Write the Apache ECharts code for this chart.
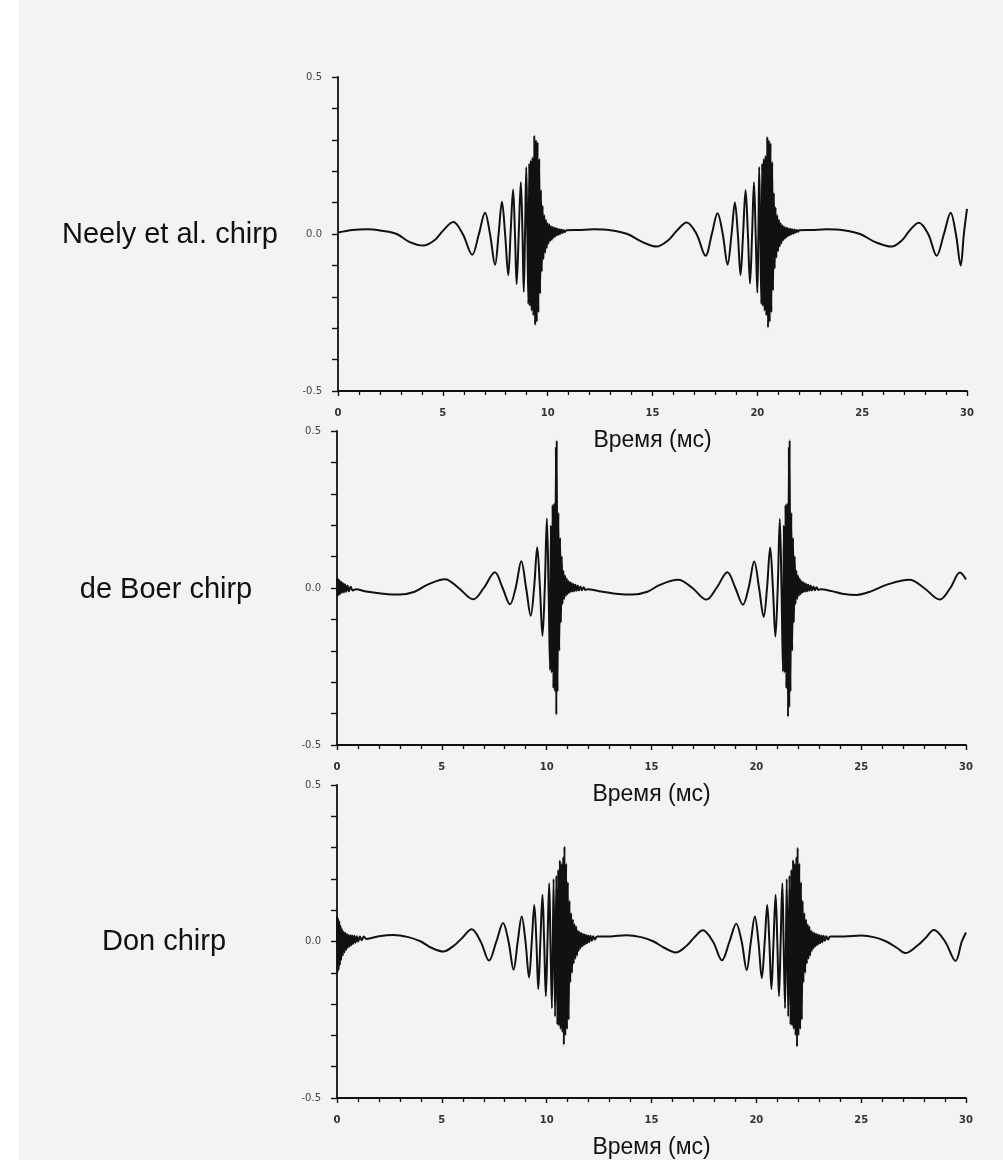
<!DOCTYPE html>
<html>
<head>
<meta charset="utf-8">
<script src="https://cdn.jsdelivr.net/npm/echarts@6/dist/echarts.min.js"></script>
<style>
html,body{margin:0;padding:0;background:#ffffff;}
#chart{width:1003px;height:1160px;}
</style>
</head>
<body>
<div id="chart"></div>
<script>
// ---- data ----
const panelNames = ['Neely et al. chirp', 'de Boer chirp', 'Don chirp'];
const xAxisTitle = 'Время (мс)';
const xRange = [0, 30];
const yRange = [-0.5, 0.5];
const yLabelValues = [-0.5, 0, 0.5];
const yLabelTexts = ['-0.5', '0.0', '0.5'];

const neelyData = [
[0,0.005],[0.7,0.013],[1.4,0.015],[2.1,0.01],[2.8,0],[3.4,-0.025],[4.07,-0.037],[4.6,-0.02],[5.0,0.01],[5.5,0.038],[5.95,0],[6.4,-0.066],[6.72,0],[7.01,0.068],[7.25,0],[7.49,-0.098],[7.66,0],[7.82,0.103],[7.97,0],[8.12,-0.131],[8.23,0],[8.35,0.142],[8.44,0],[8.52,-0.16],[8.62,0],[8.72,0.165],[8.8,0],[8.86,-0.185],[8.92,0],[8.98,0.213],[9.03,0],
[9.08,-0.224],[9.12,0.225],[9.16,-0.23],[9.2,0.235],[9.24,-0.245],[9.28,0.245],[9.32,-0.26],[9.36,0.314],[9.4,-0.29],[9.44,0.3],[9.48,-0.28],[9.52,0.293],[9.56,-0.25],[9.6,0.24],[9.64,-0.19],[9.68,0.14],[9.72,-0.12],[9.76,0.09],[9.8,-0.08],[9.84,0.06],[9.88,-0.06],[9.92,0.045],[9.96,-0.045],[10,0.035],
[10.04,-0.03],[10.08,0.03],[10.12,-0.022],[10.16,0.025],[10.2,-0.018],[10.24,0.022],[10.28,-0.012],[10.32,0.02],[10.36,-0.008],[10.4,0.018],[10.44,-0.004],[10.48,0.016],[10.52,-0.002],[10.56,0.015],[10.6,0],[10.65,0.014],[10.7,0.003],[10.76,0.013],[10.82,0.006],[10.9,0.012],
[11.5,0.013],[12.2,0.015],[13,0.012],[13.8,0],[14.5,-0.025],[15.2,-0.04],[15.75,-0.02],[16.15,0.01],[16.63,0.037],[17.1,0],[17.53,-0.069],[17.83,0],[18.1,0.066],[18.35,0],[18.58,-0.098],[18.77,0],[18.93,0.1],[19.07,0],[19.2,-0.131],[19.32,0],[19.44,0.14],[19.55,0],[19.65,-0.158],[19.75,0],[19.84,0.165],[19.92,0],[20,-0.187],[20.05,0],[20.09,0.213],[20.14,0],
[20.19,-0.224],[20.23,0.225],[20.27,-0.23],[20.31,0.24],[20.35,-0.245],[20.39,0.25],[20.43,-0.26],[20.47,0.31],[20.51,-0.298],[20.55,0.3],[20.59,-0.28],[20.63,0.29],[20.67,-0.25],[20.71,0.23],[20.75,-0.18],[20.79,0.13],[20.83,-0.11],[20.87,0.085],[20.91,-0.075],[20.95,0.06],[20.99,-0.055],[21.03,0.045],[21.07,-0.04],[21.11,0.035],
[21.15,-0.03],[21.19,0.028],[21.23,-0.02],[21.27,0.024],[21.31,-0.015],[21.35,0.021],[21.39,-0.01],[21.43,0.019],[21.47,-0.006],[21.51,0.017],[21.55,-0.003],[21.59,0.016],[21.63,-0.001],[21.67,0.015],[21.72,0.001],[21.77,0.014],[21.82,0.004],[21.88,0.013],[21.94,0.007],[22,0.012],
[22.6,0.013],[23.3,0.015],[24.1,0.012],[24.9,0],[25.6,-0.025],[26.4,-0.04],[26.9,-0.02],[27.25,0.01],[27.7,0.036],[28.15,0],[28.55,-0.069],[28.9,0],[29.22,0.068],[29.47,0],[29.7,-0.1],[29.85,0],[30,0.08]
];

const deBoerData = [
[0,0.03],[0.03,-0.025],[0.06,0.028],[0.09,-0.022],[0.12,0.025],[0.16,-0.018],[0.2,0.02],[0.24,-0.015],[0.28,0.016],[0.33,-0.014],[0.38,0.012],[0.44,-0.012],[0.5,0.008],[0.57,-0.01],[0.65,0.004],[0.75,-0.008],[0.9,-0.004],
[1.4,-0.011],[2.2,-0.018],[3,-0.021],[3.7,-0.012],[4.3,0.01],[5.15,0.028],[5.8,0],[6.5,-0.036],[7,0],[7.53,0.05],[7.9,0],[8.25,-0.052],[8.52,0],[8.79,0.085],[9.02,0],[9.24,-0.088],[9.4,0],[9.55,0.13],[9.68,0],[9.8,-0.152],[9.91,0],[10.01,0.221],[10.09,0],[10.16,-0.261],
[10.2,0.2],[10.24,-0.27],[10.28,0.265],[10.32,-0.32],[10.36,0.27],[10.4,-0.33],[10.44,0.45],[10.46,-0.404],[10.48,0.47],[10.52,-0.33],[10.56,0.24],[10.6,-0.2],[10.64,0.16],[10.68,-0.11],[10.72,0.1],[10.76,-0.05],
[10.8,0.055],[10.84,-0.035],[10.88,0.04],[10.92,-0.025],[10.96,0.03],[11,-0.02],[11.04,0.022],[11.08,-0.015],[11.12,0.018],[11.16,-0.012],[11.2,0.015],[11.24,-0.011],[11.28,0.012],[11.32,-0.01],[11.37,0.01],[11.42,-0.009],[11.48,0.008],[11.54,-0.008],[11.61,0.005],[11.68,-0.007],[11.76,0.002],[11.85,-0.006],[11.95,-0.004],
[12.5,-0.01],[13.3,-0.018],[14.1,-0.021],[14.8,-0.012],[15.4,0.01],[16.27,0.026],[16.95,0],[17.62,-0.037],[18.1,0],[18.62,0.05],[19,0],[19.36,-0.053],[19.63,0],[19.9,0.084],[20.13,0],[20.35,-0.092],[20.51,0],[20.66,0.129],[20.79,0],[20.91,-0.155],[21.02,0],[21.12,0.22],[21.2,0],[21.27,-0.266],
[21.31,0.2],[21.35,-0.27],[21.39,0.265],[21.43,-0.32],[21.47,0.27],[21.51,-0.41],[21.55,0.45],[21.57,-0.38],[21.59,0.471],[21.63,-0.33],[21.67,0.24],[21.71,-0.2],[21.75,0.16],[21.79,-0.11],[21.83,0.1],[21.87,-0.05],
[21.91,0.055],[21.95,-0.035],[21.99,0.04],[22.03,-0.025],[22.07,0.03],[22.11,-0.02],[22.15,0.022],[22.19,-0.015],[22.23,0.018],[22.27,-0.012],[22.31,0.015],[22.35,-0.011],[22.39,0.012],[22.43,-0.01],[22.48,0.01],[22.53,-0.009],[22.59,0.008],[22.65,-0.008],[22.72,0.005],[22.79,-0.007],[22.87,0.002],[22.96,-0.006],[23.06,-0.004],
[23.6,-0.01],[24.1,-0.018],[24.78,-0.022],[25.5,-0.01],[26.2,0.01],[27.3,0.026],[28,0],[28.75,-0.037],[29.25,0],[29.71,0.049],[30,0.027]
];

const donData = [
[0,0.08],[0.02,-0.1],[0.05,0.075],[0.08,-0.09],[0.11,0.065],[0.14,-0.075],[0.17,0.05],[0.2,-0.06],[0.24,0.04],[0.28,-0.045],[0.32,0.032],[0.36,-0.035],[0.4,0.028],[0.44,-0.027],[0.48,0.024],[0.52,-0.02],[0.56,0.021],[0.6,-0.016],[0.64,0.02],[0.68,-0.012],[0.72,0.019],[0.77,-0.008],[0.82,0.018],[0.88,-0.004],[0.94,0.017],[1.01,0],[1.09,0.016],[1.18,0.004],[1.28,0.016],[1.4,0.008],
[2,0.017],[2.69,0.021],[3.4,0.014],[4,0],[4.5,-0.02],[5.07,-0.032],[5.6,-0.012],[5.95,0.01],[6.42,0.039],[6.85,0],[7.25,-0.061],[7.6,0],[7.92,0.059],[8.18,0],[8.42,-0.09],[8.62,0],[8.81,0.08],[8.99,0],[9.16,-0.115],[9.29,0],[9.41,0.117],[9.51,0],[9.6,-0.152],[9.7,0],[9.8,0.149],[9.88,0],[9.96,-0.175],[10.04,0],[10.12,0.186],[10.18,0],[10.25,-0.213],
[10.33,0.2],[10.4,-0.24],[10.46,0.21],[10.51,-0.266],[10.55,0.23],[10.59,-0.27],[10.63,0.26],[10.67,-0.28],[10.71,0.25],[10.75,-0.29],[10.79,0.27],[10.82,-0.33],[10.85,0.304],[10.89,-0.3],[10.93,0.25],[10.97,-0.28],[11.01,0.19],[11.05,-0.25],[11.09,0.13],[11.13,-0.13],[11.17,0.09],[11.21,-0.1],[11.25,0.07],[11.29,-0.07],[11.33,0.055],[11.37,-0.055],[11.41,0.048],[11.45,-0.045],
[11.49,0.035],[11.53,-0.03],[11.57,0.03],[11.61,-0.022],[11.65,0.027],[11.69,-0.016],[11.73,0.025],[11.77,-0.012],[11.81,0.022],[11.85,-0.008],[11.89,0.02],[11.93,-0.005],[11.98,0.019],[12.03,-0.002],[12.09,0.018],[12.15,0.002],[12.22,0.017],[12.3,0.006],[12.4,0.016],
[13,0.016],[13.8,0.02],[14.5,0.014],[15.1,0],[15.6,-0.02],[16.15,-0.035],[16.7,-0.012],[17,0.01],[17.45,0.036],[17.93,0],[18.36,-0.06],[18.72,0],[19.04,0.057],[19.3,0],[19.54,-0.091],[19.74,0],[19.93,0.08],[20.1,0],[20.26,-0.117],[20.4,0],[20.52,0.117],[20.62,0],[20.72,-0.152],[20.82,0],[20.92,0.149],[21,0],[21.08,-0.175],[21.16,0],[21.24,0.186],[21.3,0],[21.37,-0.213],
[21.45,0.2],[21.52,-0.24],[21.58,0.21],[21.63,-0.266],[21.67,0.23],[21.71,-0.27],[21.75,0.261],[21.79,-0.28],[21.83,0.25],[21.87,-0.3],[21.91,0.27],[21.94,-0.336],[21.97,0.3],[22.01,-0.3],[22.05,0.25],[22.09,-0.28],[22.13,0.19],[22.17,-0.25],[22.21,0.13],[22.25,-0.13],[22.29,0.09],[22.33,-0.1],[22.37,0.07],[22.41,-0.07],[22.45,0.055],[22.49,-0.055],[22.53,0.048],[22.57,-0.045],
[22.61,0.035],[22.65,-0.03],[22.69,0.03],[22.73,-0.022],[22.77,0.027],[22.81,-0.016],[22.85,0.025],[22.89,-0.012],[22.93,0.022],[22.97,-0.008],[23.01,0.02],[23.05,-0.005],[23.1,0.019],[23.15,-0.002],[23.21,0.018],[23.27,0.002],[23.34,0.017],[23.42,0.006],[23.52,0.016],
[24.2,0.016],[25,0.019],[25.6,0.014],[26.2,0],[26.7,-0.02],[27.1,-0.037],[27.7,-0.012],[28.05,0.01],[28.47,0.037],[29,0],[29.5,-0.062],[29.8,0],[30,0.029]
];

const seriesData = [neelyData, deBoerData, donData];

// ---- layout ----
const grids = [
  {left: 338, top: 77, width: 629, height: 314},
  {left: 337, top: 431, width: 629, height: 314},
  {left: 337, top: 785, width: 629, height: 313}
];
const labelPos = [[170, 235], [166, 590], [164, 942]];
const ink = '#111111';

function yFmt(v) {
  for (let i = 0; i < yLabelValues.length; i++) {
    if (Math.abs(v - yLabelValues[i]) < 1e-6) return yLabelTexts[i];
  }
  return '';
}

const option = {
  animation: false,
  backgroundColor: '#f3f3f1',
  grid: grids.map(g => Object.assign({containLabel: false}, g)),
  xAxis: grids.map((g, i) => ({
    gridIndex: i, type: 'value', min: xRange[0], max: xRange[1], interval: 5,
    name: xAxisTitle, nameLocation: 'middle', nameGap: 38,
    nameTextStyle: {fontFamily: 'Liberation Sans, Arial', fontSize: 23, color: '#111'},
    axisLine: {onZero: false, lineStyle: {color: ink, width: 1.8}},
    axisTick: {show: true, inside: false, length: 5, lineStyle: {color: ink, width: 1.4}},
    minorTick: {show: true, splitNumber: 5, length: 4, lineStyle: {color: ink, width: 1.3}},
    axisLabel: {margin: 17, fontFamily: 'DejaVu Sans', fontSize: 10, fontWeight: 'bold', color: '#333'},
    splitLine: {show: false}, minorSplitLine: {show: false}
  })),
  yAxis: grids.map((g, i) => ({
    gridIndex: i, type: 'value', min: yRange[0], max: yRange[1], interval: 0.1,
    axisLine: {onZero: false, lineStyle: {color: ink, width: 1.8}},
    axisTick: {show: true, inside: false, length: 6, lineStyle: {color: ink, width: 1.4}},
    axisLabel: {margin: 16, fontFamily: 'DejaVu Sans', fontSize: 10, color: '#444', formatter: yFmt,
                showMinLabel: true, showMaxLabel: true},
    splitLine: {show: false}
  })),
  series: seriesData.map((d, i) => ({
    type: 'line', xAxisIndex: i, yAxisIndex: i, data: d,
    showSymbol: false, smooth: 0.35, sampling: null,
    lineStyle: {color: ink, width: 2}
  })),
  graphic: [
    {type: 'rect', left: 0, top: 0, shape: {width: 19, height: 1160}, style: {fill: '#ffffff'}, silent: true}
  ].concat(panelNames.map((n, i) => ({
    type: 'text', x: labelPos[i][0], y: labelPos[i][1],
    style: {text: n, font: '29px "Liberation Sans", Arial', fill: '#111',
            align: 'center', verticalAlign: 'middle', textAlign: 'center', textVerticalAlign: 'middle'}
  })))
};

const chart = echarts.init(document.getElementById('chart'), null, {renderer: 'canvas'});
chart.setOption(option);
</script>
</body>
</html>
